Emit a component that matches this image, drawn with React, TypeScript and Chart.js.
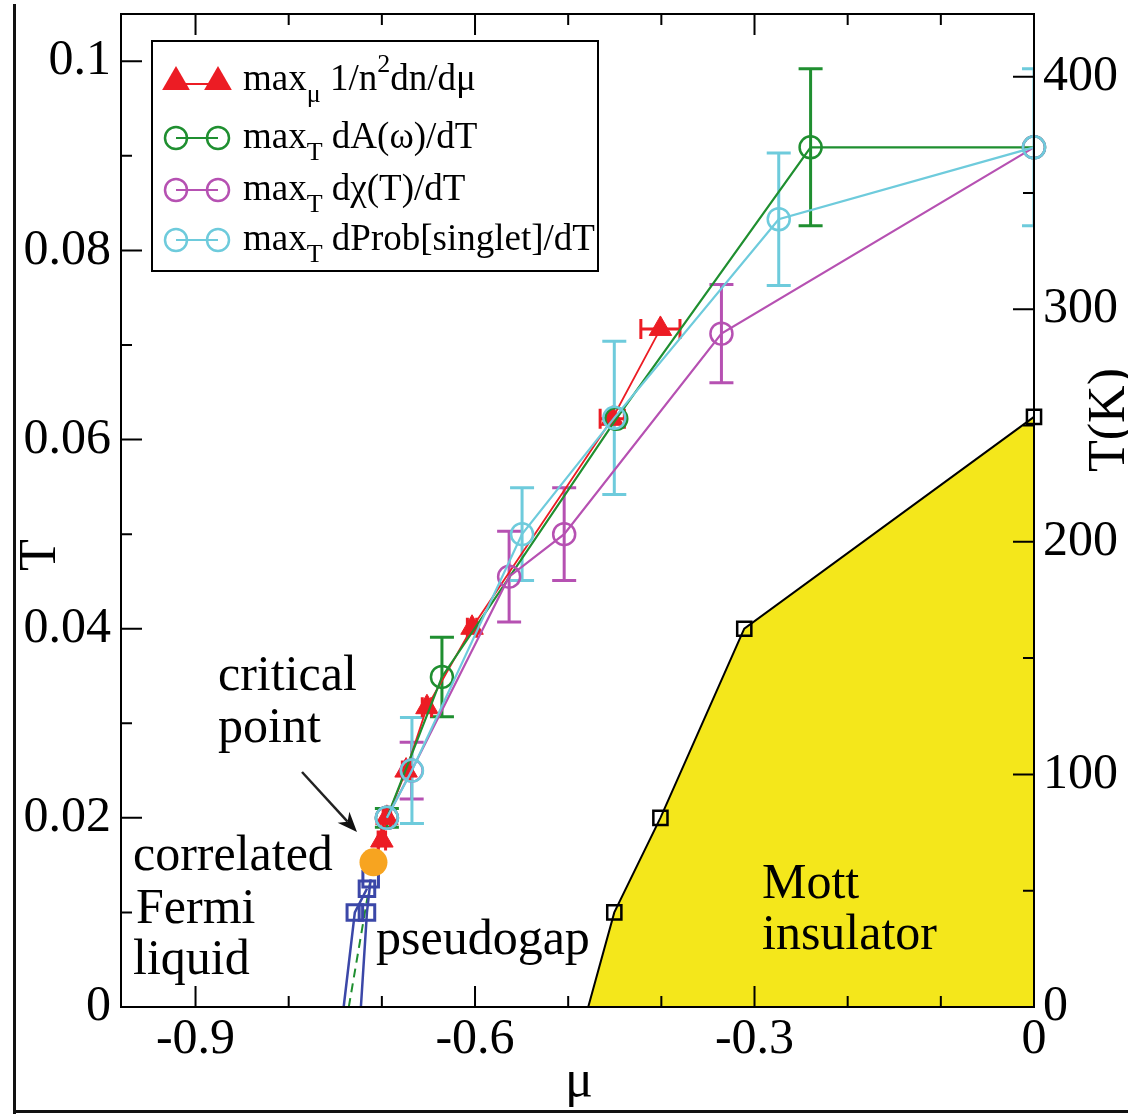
import React, { useEffect, useRef } from 'react';
import { Chart, registerables } from 'chart.js';

Chart.register(...registerables);

const SERIF = "'Liberation Serif', 'Times New Roman', Times, serif";

const RED = '#ec1c24';
const GREEN = '#1f8f30';
const MAGENTA = '#b651b2';
const CYAN = '#6ecbdc';
const BLUE = '#3b47a8';
const ORANGE = '#f7a420';
const YELLOW = '#f4e71b';

// ---- axis ticks ----
const muTickValues = [-0.9, -0.6, -0.3, 0];
const muTickLabels = ['-0.9', '-0.6', '-0.3', '0'];
const tTickValues = [0, 0.02, 0.04, 0.06, 0.08, 0.1];
const tTickLabels = ['0', '0.02', '0.04', '0.06', '0.08', '0.1'];
const kTickValues = [0, 100, 200, 300, 400];
const kTickLabels = ['0', '100', '200', '300', '400'];
const K_PER_T = 4066;

// ---- series ----
// max_mu 1/n^2 dn/dmu (red triangles, horizontal error in mu)
const redMu = [-0.709, -0.7, -0.6946, -0.674, -0.6516, -0.6032, -0.4527, -0.401];
const redT = [0.0153, 0.0176, 0.02, 0.025, 0.0317, 0.0401, 0.0622, 0.0717];
const redMuErr = [0, 0.004, 0.004, 0.004, 0.005, 0.005, 0.013, 0.021];

// max_T dA(w)/dT (green)
const greenMu = [-0.6946, -0.6355, -0.4484, -0.2398, 0];
const greenT = [0.02, 0.0349, 0.0622, 0.0909, 0.0909];
const greenTErr = [0.001, 0.0042, 0, 0.0083, 0];

// max_T dchi(T)/dT (magenta)
const magentaMu = [-0.6946, -0.668, -0.5634, -0.5043, -0.3355, 0];
const magentaT = [0.02, 0.025, 0.0455, 0.05, 0.0712, 0.0909];
const magentaTErr = [0, 0.003, 0.0048, 0.0049, 0.0052, 0];

// max_T dProb[singlet]/dT (cyan)
const cyanMu = [-0.6946, -0.6677, -0.5495, -0.4505, -0.274, 0];
const cyanT = [0.02, 0.025, 0.05, 0.0623, 0.0833, 0.0909];
const cyanTErr = [0, 0.0056, 0.0049, 0.0081, 0.007, 0.0083];

// first-order transition lines (blue)
const blueLeftMu = [-0.741, -0.729, -0.716];
const blueLeftT = [0, 0.01, 0.0125];
const blueRightMu = [-0.7225, -0.716, -0.712];
const blueRightT = [0, 0.01, 0.0135];
const greenDashMu = [-0.7355, -0.709];
const greenDashT = [0, 0.0153];

// critical point
const critMu = [-0.709];
const critT = [0.0153];

// Mott insulator boundary
const mottMu = [-0.4785, -0.4505, -0.401, -0.311, 0];
const mottT = [0, 0.01, 0.02, 0.04, 0.0624];

const legendRows: { color: string; style: string; parts: [string, string][] }[] = [
  { color: RED, style: 'triangle', parts: [['max', ''], ['μ', 'sub'], [' 1/n', ''], ['2', 'sup'], ['dn/dμ', '']] },
  { color: GREEN, style: 'circle', parts: [['max', ''], ['T', 'sub'], [' dA(ω)/dT', '']] },
  { color: MAGENTA, style: 'circle', parts: [['max', ''], ['T', 'sub'], [' dχ(T)/dT', '']] },
  { color: CYAN, style: 'circle', parts: [['max', ''], ['T', 'sub'], [' dProb[singlet]/dT', '']] },
];

const pts = (mu: number[], t: number[]) => mu.map((m, i) => ({ x: m, y: t[i] }));
const near = (a: number, b: number) => Math.abs(a - b) < 1e-6;
const labelFor = (vals: number[], labels: string[]) => (v: any) => {
  const i = vals.findIndex((t) => near(t, Number(v)));
  return i >= 0 ? labels[i] : '';
};
const zeroPad = (s: any) => {
  s.paddingTop = 0;
  s.paddingBottom = 0;
  s.paddingLeft = 0;
  s.paddingRight = 0;
};

const errorBarPlugin = {
  id: 'errorBars',
  beforeDatasetsDraw(chart: any) {
    const { ctx, chartArea, scales } = chart;
    const xs = scales.x;
    const ys = scales.y;
    ctx.save();
    ctx.beginPath();
    ctx.rect(chartArea.left, chartArea.top, chartArea.right - chartArea.left, chartArea.bottom - chartArea.top);
    ctx.clip();
    ctx.lineWidth = 3;
    const vert = (mu: number[], t: number[], err: number[], color: string) => {
      ctx.strokeStyle = color;
      mu.forEach((m, i) => {
        if (!err[i]) return;
        const x = xs.getPixelForValue(m);
        const y1 = ys.getPixelForValue(t[i] + err[i]);
        const y2 = ys.getPixelForValue(t[i] - err[i]);
        ctx.beginPath();
        ctx.moveTo(x, y1); ctx.lineTo(x, y2);
        ctx.moveTo(x - 12, y1); ctx.lineTo(x + 12, y1);
        ctx.moveTo(x - 12, y2); ctx.lineTo(x + 12, y2);
        ctx.stroke();
      });
    };
    vert(greenMu, greenT, greenTErr, GREEN);
    vert(magentaMu, magentaT, magentaTErr, MAGENTA);
    vert(cyanMu, cyanT, cyanTErr, CYAN);
    ctx.strokeStyle = RED;
    redMu.forEach((m, i) => {
      if (!redMuErr[i]) return;
      const y = ys.getPixelForValue(redT[i]);
      const x1 = xs.getPixelForValue(m - redMuErr[i]);
      const x2 = xs.getPixelForValue(m + redMuErr[i]);
      ctx.beginPath();
      ctx.moveTo(x1, y); ctx.lineTo(x2, y);
      ctx.moveTo(x1, y - 10); ctx.lineTo(x1, y + 10);
      ctx.moveTo(x2, y - 10); ctx.lineTo(x2, y + 10);
      ctx.stroke();
    });
    ctx.restore();
  },
};

const framePlugin = {
  id: 'frame',
  afterDatasetsDraw(chart: any) {
    const { ctx, chartArea, scales } = chart;
    const { left, right, top, bottom } = chartArea;
    const MAJ = 21;
    const MIN = 11;
    ctx.save();
    ctx.strokeStyle = '#000';
    ctx.lineWidth = 2;
    ctx.beginPath();
    scales.x.ticks.forEach((tk: any) => {
      const v = tk.value;
      if (!near(Math.round(v * 10) / 10, v)) return;
      const len = muTickValues.some((t) => near(t, v)) ? MAJ : MIN;
      const x = scales.x.getPixelForValue(v);
      ctx.moveTo(x, bottom); ctx.lineTo(x, bottom - len);
      ctx.moveTo(x, top); ctx.lineTo(x, top + len);
    });
    scales.y.ticks.forEach((tk: any) => {
      const v = tk.value;
      if (!near(Math.round(v * 100) / 100, v)) return;
      const len = tTickValues.some((t) => near(t, v)) ? MAJ : MIN;
      const y = scales.y.getPixelForValue(v);
      ctx.moveTo(left, y); ctx.lineTo(left + len, y);
    });
    scales.y2.ticks.forEach((tk: any) => {
      const v = tk.value;
      if (!near(Math.round(v / 50) * 50, v)) return;
      const len = kTickValues.some((t) => near(t, v)) ? MAJ : MIN;
      const y = scales.y2.getPixelForValue(v);
      ctx.moveTo(right, y); ctx.lineTo(right - len, y);
    });
    ctx.stroke();
    ctx.strokeRect(left, top, right - left, bottom - top);
    ctx.restore();
  },
};

const overlayPlugin = {
  id: 'overlay',
  afterDraw(chart: any) {
    const { ctx } = chart;
    ctx.save();
    // outer figure border
    ctx.fillStyle = '#111';
    ctx.fillRect(13, 4, 3, 1110);
    ctx.fillRect(13, 1110, 1115, 3);

    // legend
    ctx.fillStyle = '#fff';
    ctx.fillRect(152, 41, 446, 230);
    ctx.strokeStyle = '#000';
    ctx.lineWidth = 2;
    ctx.strokeRect(152, 41, 446, 230);
    const symY = [84, 138, 190, 240];
    const baseY = [90, 148, 200, 250];
    legendRows.forEach((row, i) => {
      const y = symY[i];
      ctx.strokeStyle = row.color;
      ctx.fillStyle = row.color;
      ctx.lineWidth = 2;
      ctx.beginPath();
      ctx.moveTo(176, y); ctx.lineTo(218, y);
      ctx.stroke();
      [176, 218].forEach((cx) => {
        if (row.style === 'triangle') {
          const r = 16;
          const cy = 82;
          ctx.beginPath();
          ctx.moveTo(cx, cy - r);
          ctx.lineTo(cx + r * 0.866, cy + r / 2);
          ctx.lineTo(cx - r * 0.866, cy + r / 2);
          ctx.closePath();
          ctx.fill();
        } else {
          ctx.lineWidth = 2.5;
          ctx.beginPath();
          ctx.arc(cx, y, 11, 0, Math.PI * 2);
          ctx.stroke();
        }
      });
      ctx.fillStyle = '#000';
      ctx.textAlign = 'left';
      ctx.textBaseline = 'alphabetic';
      let cx = 243;
      row.parts.forEach(([text, kind]) => {
        let dy = 0;
        if (kind === 'sub') { ctx.font = `26px ${SERIF}`; dy = 12; }
        else if (kind === 'sup') { ctx.font = `26px ${SERIF}`; dy = -18; }
        else { ctx.font = `37px ${SERIF}`; }
        ctx.fillText(text, cx, baseY[i] + dy);
        cx += ctx.measureText(text).width;
      });
    });

    // annotations
    ctx.fillStyle = '#000';
    ctx.font = `50px ${SERIF}`;
    ctx.textAlign = 'left';
    ctx.textBaseline = 'alphabetic';
    ctx.fillText('critical', 218, 690);
    ctx.fillText('point', 218, 742);
    ctx.fillText('correlated', 133, 870);
    ctx.fillText('Fermi', 136, 923);
    ctx.fillText('liquid', 133, 974);
    ctx.fillText('pseudogap', 376, 954);
    ctx.fillText('Mott', 762, 898);
    ctx.fillText('insulator', 762, 949);

    // arrow
    const x0 = 302, y0 = 772, x1 = 357, y1 = 832;
    const ang = Math.atan2(y1 - y0, x1 - x0);
    ctx.strokeStyle = '#222';
    ctx.lineWidth = 2.5;
    ctx.beginPath();
    ctx.moveTo(x0, y0);
    ctx.lineTo(x1 - 14 * Math.cos(ang), y1 - 14 * Math.sin(ang));
    ctx.stroke();
    ctx.fillStyle = '#111';
    ctx.beginPath();
    ctx.moveTo(x1, y1);
    ctx.lineTo(x1 - 20 * Math.cos(ang) + 8 * Math.sin(ang), y1 - 20 * Math.sin(ang) - 8 * Math.cos(ang));
    ctx.lineTo(x1 - 14 * Math.cos(ang), y1 - 14 * Math.sin(ang));
    ctx.lineTo(x1 - 20 * Math.cos(ang) - 8 * Math.sin(ang), y1 - 20 * Math.sin(ang) + 8 * Math.cos(ang));
    ctx.closePath();
    ctx.fill();

    // axis titles
    ctx.fillStyle = '#000';
    ctx.font = `52px ${SERIF}`;
    ctx.textAlign = 'center';
    ctx.fillText('μ', 579, 1096);
    ctx.save();
    ctx.translate(55, 555);
    ctx.rotate(-Math.PI / 2);
    ctx.fillText('T', 0, 0);
    ctx.restore();
    ctx.save();
    ctx.translate(1124, 420);
    ctx.rotate(-Math.PI / 2);
    ctx.fillText('T(K)', 0, 0);
    ctx.restore();
    ctx.restore();
  },
};

function App() {
  const ref = useRef<HTMLCanvasElement>(null);
  useEffect(() => {
    const canvas = ref.current!;
    const tickFont = { family: SERIF, size: 50 };
    const openCircle = (color: string) => ({
      borderColor: color,
      borderWidth: 2.2,
      pointStyle: 'circle',
      pointRadius: 11,
      pointBorderWidth: 2.5,
      pointBorderColor: color,
      pointBackgroundColor: 'rgba(0,0,0,0)',
      fill: false,
      tension: 0,
      clip: false,
    });
    const chart = new Chart(canvas, {
      type: 'line',
      data: {
        datasets: [
          {
            label: 'critical point',
            data: pts(critMu, critT),
            showLine: false,
            pointStyle: 'circle',
            pointRadius: 14,
            pointBackgroundColor: ORANGE,
            pointBorderColor: ORANGE,
            pointBorderWidth: 0,
            clip: false,
          } as any,
          { label: 'max_T dProb[singlet]/dT', data: pts(cyanMu, cyanT), ...openCircle(CYAN) } as any,
          { label: 'max_T dχ(T)/dT', data: pts(magentaMu, magentaT), ...openCircle(MAGENTA) } as any,
          { label: 'max_T dA(ω)/dT', data: pts(greenMu, greenT), ...openCircle(GREEN) } as any,
          {
            label: 'max_μ 1/n²dn/dμ',
            data: pts(redMu, redT),
            borderColor: RED,
            borderWidth: 1.8,
            pointStyle: 'triangle',
            pointRadius: redMu.map((_, i) => (i === 0 ? 0 : 13)),
            pointBackgroundColor: RED,
            pointBorderColor: RED,
            pointBorderWidth: 1,
            fill: false,
            tension: 0,
            clip: false,
          } as any,
          {
            label: 'first order (left)',
            data: pts(blueLeftMu, blueLeftT),
            borderColor: BLUE,
            borderWidth: 2.5,
            pointStyle: 'rect',
            pointRadius: blueLeftMu.map((_, i) => (i === 0 ? 0 : 11)),
            pointBorderWidth: 3,
            pointBorderColor: BLUE,
            pointBackgroundColor: 'rgba(0,0,0,0)',
            fill: false,
            clip: false,
          } as any,
          {
            label: 'first order (right)',
            data: pts(blueRightMu, blueRightT),
            borderColor: BLUE,
            borderWidth: 2.5,
            pointStyle: 'rect',
            pointRadius: blueRightMu.map((_, i) => (i === 0 ? 0 : 11)),
            pointBorderWidth: 3,
            pointBorderColor: BLUE,
            pointBackgroundColor: 'rgba(0,0,0,0)',
            fill: false,
            clip: false,
          } as any,
          {
            label: 'spinodal',
            data: pts(greenDashMu, greenDashT),
            borderColor: GREEN,
            borderWidth: 2,
            borderDash: [9, 6],
            pointRadius: 0,
            fill: false,
            clip: false,
          } as any,
          {
            label: 'Mott insulator',
            data: pts(mottMu, mottT),
            borderColor: '#000',
            borderWidth: 2,
            backgroundColor: YELLOW,
            fill: 'origin',
            pointStyle: 'rect',
            pointRadius: mottMu.map((_, i) => (i === 0 ? 0 : 10)),
            pointBorderWidth: 2.5,
            pointBorderColor: '#000',
            pointBackgroundColor: 'rgba(0,0,0,0)',
            tension: 0,
            clip: false,
          } as any,
        ],
      },
      options: {
        animation: false,
        responsive: false,
        devicePixelRatio: 1,
        events: [],
        layout: { padding: { top: 12, left: 0, right: 0, bottom: 0 } },
        plugins: { legend: { display: false }, tooltip: { enabled: false } },
        scales: {
          x: {
            type: 'linear',
            min: -0.98,
            max: 0,
            position: 'bottom',
            grid: { display: false, drawTicks: false },
            border: { display: false },
            ticks: {
              stepSize: 0.1,
              includeBounds: false,
              autoSkip: false,
              maxRotation: 0,
              minRotation: 0,
              padding: 3,
              color: '#000',
              font: tickFont,
              callback: labelFor(muTickValues, muTickLabels),
            },
            afterFit: (s: any) => { s.height = 110; zeroPad(s); },
          },
          y: {
            type: 'linear',
            min: 0,
            max: 0.105,
            position: 'left',
            grid: { display: false, drawTicks: false },
            border: { display: false },
            ticks: {
              stepSize: 0.01,
              includeBounds: false,
              autoSkip: false,
              padding: 10,
              color: '#000',
              font: tickFont,
              callback: labelFor(tTickValues, tTickLabels),
            },
            afterFit: (s: any) => { s.width = 121; zeroPad(s); },
          },
          y2: {
            type: 'linear',
            min: 0,
            max: 0.105 * K_PER_T,
            position: 'right',
            grid: { display: false, drawTicks: false },
            border: { display: false },
            ticks: {
              stepSize: 50,
              includeBounds: false,
              autoSkip: false,
              padding: 9,
              color: '#000',
              font: tickFont,
              callback: labelFor(kTickValues, kTickLabels),
            },
            afterFit: (s: any) => { s.width = 94; zeroPad(s); },
          },
        },
      } as any,
      plugins: [errorBarPlugin, framePlugin, overlayPlugin],
    });
    return () => chart.destroy();
  }, []);
  return (
    <div style={{ position: 'absolute', left: 0, top: 0, width: 1128, height: 1117, background: '#fff' }}>
      <canvas ref={ref} width={1128} height={1117} style={{ display: 'block', width: 1128, height: 1117 }} />
    </div>
  );
}

export default App;
